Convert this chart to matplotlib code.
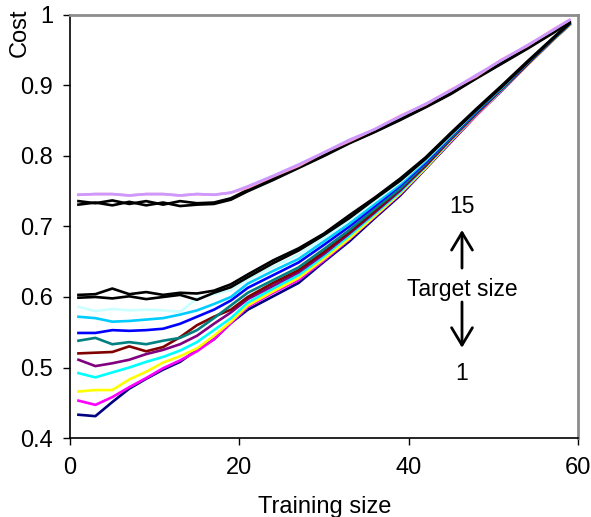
import matplotlib
matplotlib.use("Agg")
import matplotlib.pyplot as plt

plt.rcParams['font.family'] = ['Liberation Sans', 'DejaVu Sans']

training_size = [1, 3, 5, 7, 9, 11, 13, 15, 17, 19, 21,
                 24, 27, 30, 33, 36, 39, 42, 45, 48, 51, 54, 57, 59]

# target sizes 1..10 (coloured), then the black / pastel ones on top
navy = [0.433, 0.431, 0.451, 0.470, 0.484, 0.497, 0.508, 0.525, 0.540, 0.563, 0.582,
        0.601, 0.620, 0.650, 0.679, 0.712, 0.744, 0.782, 0.820, 0.858, 0.893, 0.929, 0.964, 0.986]
magenta = [0.453, 0.447, 0.458, 0.472, 0.485, 0.499, 0.510, 0.523, 0.540, 0.563, 0.586,
           0.606, 0.624, 0.652, 0.682, 0.714, 0.746, 0.783, 0.821, 0.858, 0.893, 0.929, 0.964, 0.986]
yellow = [0.466, 0.468, 0.468, 0.483, 0.494, 0.507, 0.516, 0.527, 0.545, 0.565, 0.588,
          0.608, 0.627, 0.654, 0.683, 0.715, 0.747, 0.783, 0.822, 0.859, 0.894, 0.929, 0.964, 0.986]
cyan = [0.492, 0.486, 0.493, 0.500, 0.508, 0.515, 0.524, 0.536, 0.553, 0.570, 0.592,
        0.612, 0.631, 0.658, 0.687, 0.718, 0.749, 0.785, 0.823, 0.860, 0.894, 0.930, 0.965, 0.987]
purple = [0.511, 0.502, 0.506, 0.511, 0.519, 0.525, 0.533, 0.545, 0.562, 0.578, 0.597,
          0.616, 0.635, 0.661, 0.690, 0.720, 0.751, 0.786, 0.824, 0.860, 0.895, 0.930, 0.965, 0.987]
dark_red = [0.520, 0.521, 0.522, 0.530, 0.523, 0.529, 0.543, 0.560, 0.572, 0.582, 0.600,
            0.620, 0.638, 0.664, 0.692, 0.722, 0.753, 0.787, 0.825, 0.861, 0.895, 0.930, 0.965, 0.987]
teal = [0.538, 0.542, 0.533, 0.536, 0.533, 0.538, 0.542, 0.553, 0.570, 0.588, 0.606,
        0.624, 0.642, 0.668, 0.695, 0.725, 0.754, 0.789, 0.826, 0.862, 0.896, 0.931, 0.965, 0.987]
blue = [0.549, 0.549, 0.553, 0.552, 0.553, 0.555, 0.562, 0.572, 0.582, 0.595, 0.613,
        0.631, 0.649, 0.674, 0.700, 0.729, 0.758, 0.791, 0.828, 0.863, 0.897, 0.931, 0.966, 0.988]
sky_blue = [0.572, 0.570, 0.565, 0.566, 0.568, 0.570, 0.575, 0.581, 0.590, 0.600, 0.619,
            0.637, 0.654, 0.679, 0.704, 0.732, 0.760, 0.793, 0.829, 0.864, 0.897, 0.932, 0.966, 0.988]
light_cyan = [0.586, 0.580, 0.583, 0.581, 0.582, 0.581, 0.579, 0.598, 0.604, 0.610, 0.625,
              0.643, 0.660, 0.684, 0.709, 0.736, 0.763, 0.795, 0.830, 0.865, 0.898, 0.932, 0.967, 0.989]
black_low_a = [0.603, 0.604, 0.612, 0.604, 0.607, 0.603, 0.606, 0.605, 0.609, 0.618, 0.632,
               0.652, 0.669, 0.690, 0.716, 0.741, 0.768, 0.798, 0.833, 0.867, 0.900, 0.934, 0.967, 0.989]
black_low_b = [0.599, 0.600, 0.598, 0.601, 0.597, 0.600, 0.603, 0.596, 0.606, 0.614, 0.628,
               0.648, 0.666, 0.688, 0.712, 0.739, 0.765, 0.796, 0.831, 0.865, 0.898, 0.932, 0.966, 0.988]
black_high_a = [0.736, 0.733, 0.737, 0.732, 0.736, 0.731, 0.736, 0.733, 0.734, 0.740, 0.752,
                0.768, 0.785, 0.801, 0.819, 0.835, 0.852, 0.870, 0.889, 0.911, 0.932, 0.953, 0.975, 0.991]
black_high_b = [0.731, 0.734, 0.730, 0.735, 0.730, 0.734, 0.729, 0.731, 0.732, 0.738, 0.750,
                0.766, 0.783, 0.800, 0.818, 0.834, 0.851, 0.869, 0.888, 0.910, 0.931, 0.952, 0.974, 0.990]
pink = [0.745, 0.746, 0.746, 0.744, 0.746, 0.746, 0.744, 0.746, 0.745, 0.748, 0.755,
        0.771, 0.786, 0.805, 0.821, 0.838, 0.857, 0.873, 0.894, 0.913, 0.937, 0.956, 0.979, 0.993]
lavender = [0.745, 0.746, 0.746, 0.744, 0.746, 0.746, 0.744, 0.746, 0.745, 0.748, 0.757,
            0.772, 0.788, 0.805, 0.823, 0.838, 0.856, 0.874, 0.893, 0.915, 0.936, 0.957, 0.978, 0.993]

SERIES = [
    (navy, '#000080'), (magenta, '#FF00FF'), (yellow, '#FFFF00'), (cyan, '#00FFFF'),
    (purple, '#800080'), (dark_red, '#800000'), (teal, '#008080'), (blue, '#0000FF'),
    (sky_blue, '#00CCFF'), (light_cyan, '#CCFFFF'),
    (black_low_a, 'black'), (black_low_b, 'black'),
    (black_high_a, 'black'), (black_high_b, 'black'),
    (pink, '#FF99CC'), (lavender, '#CC99FF'),
]

y_ticks = [0.4, 0.5, 0.6, 0.7, 0.8, 0.9, 1.0]
y_labels = ['0.4', '0.5', '0.6', '0.7', '0.8', '0.9', '1']
x_ticks = [0, 20, 40, 60]


def main():
    fig = plt.figure(figsize=(5.91, 5.17), dpi=100)
    ax = fig.add_axes([0.1184, 0.1528, 0.8596, 0.8182])

    for values, color in SERIES:
        ax.plot(training_size, values, color=color, lw=1.9, solid_joinstyle='round')

    ax.set_xlim(0, 60)
    ax.set_ylim(0.4, 1.0)
    ax.set_xticks(x_ticks)
    ax.set_xticklabels([str(t) for t in x_ticks])
    ax.set_yticks(y_ticks)
    ax.set_yticklabels(y_labels)
    ax.tick_params(axis='both', labelsize=17, length=5, width=1, direction='out')
    ax.tick_params(axis='y', pad=7)
    ax.tick_params(axis='x', pad=9)

    for side in ['left', 'bottom']:
        ax.spines[side].set_color('black')
        ax.spines[side].set_linewidth(1.2)
    for side in ['top', 'right']:
        ax.spines[side].set_color('#8c8c8c')
        ax.spines[side].set_linewidth(2)

    fig.text(20 / 591, 1 - 33 / 517, 'Cost', rotation=90, fontsize=17,
             ha='center', va='center')
    fig.text(325 / 591, 1 - 507 / 517, 'Training size', fontsize=17,
             ha='center', va='center')

    ax.text(46.3, 0.728, '15', fontsize=16.5, ha='center', va='center')
    ax.text(46.3, 0.611, 'Target size', fontsize=16.5, ha='center', va='center')
    ax.text(46.3, 0.492, '1', fontsize=16.5, ha='center', va='center')
    arrow = dict(arrowstyle='->, head_length=0.5, head_width=0.3', lw=2,
                 color='black', mutation_scale=25, shrinkA=0, shrinkB=0)
    ax.annotate('', xy=(46.3, 0.695), xytext=(46.3, 0.641), arrowprops=arrow)
    ax.annotate('', xy=(46.3, 0.528), xytext=(46.3, 0.593), arrowprops=arrow)

    fig.savefig('out.png', dpi=100)


if __name__ == "__main__":
    main()
